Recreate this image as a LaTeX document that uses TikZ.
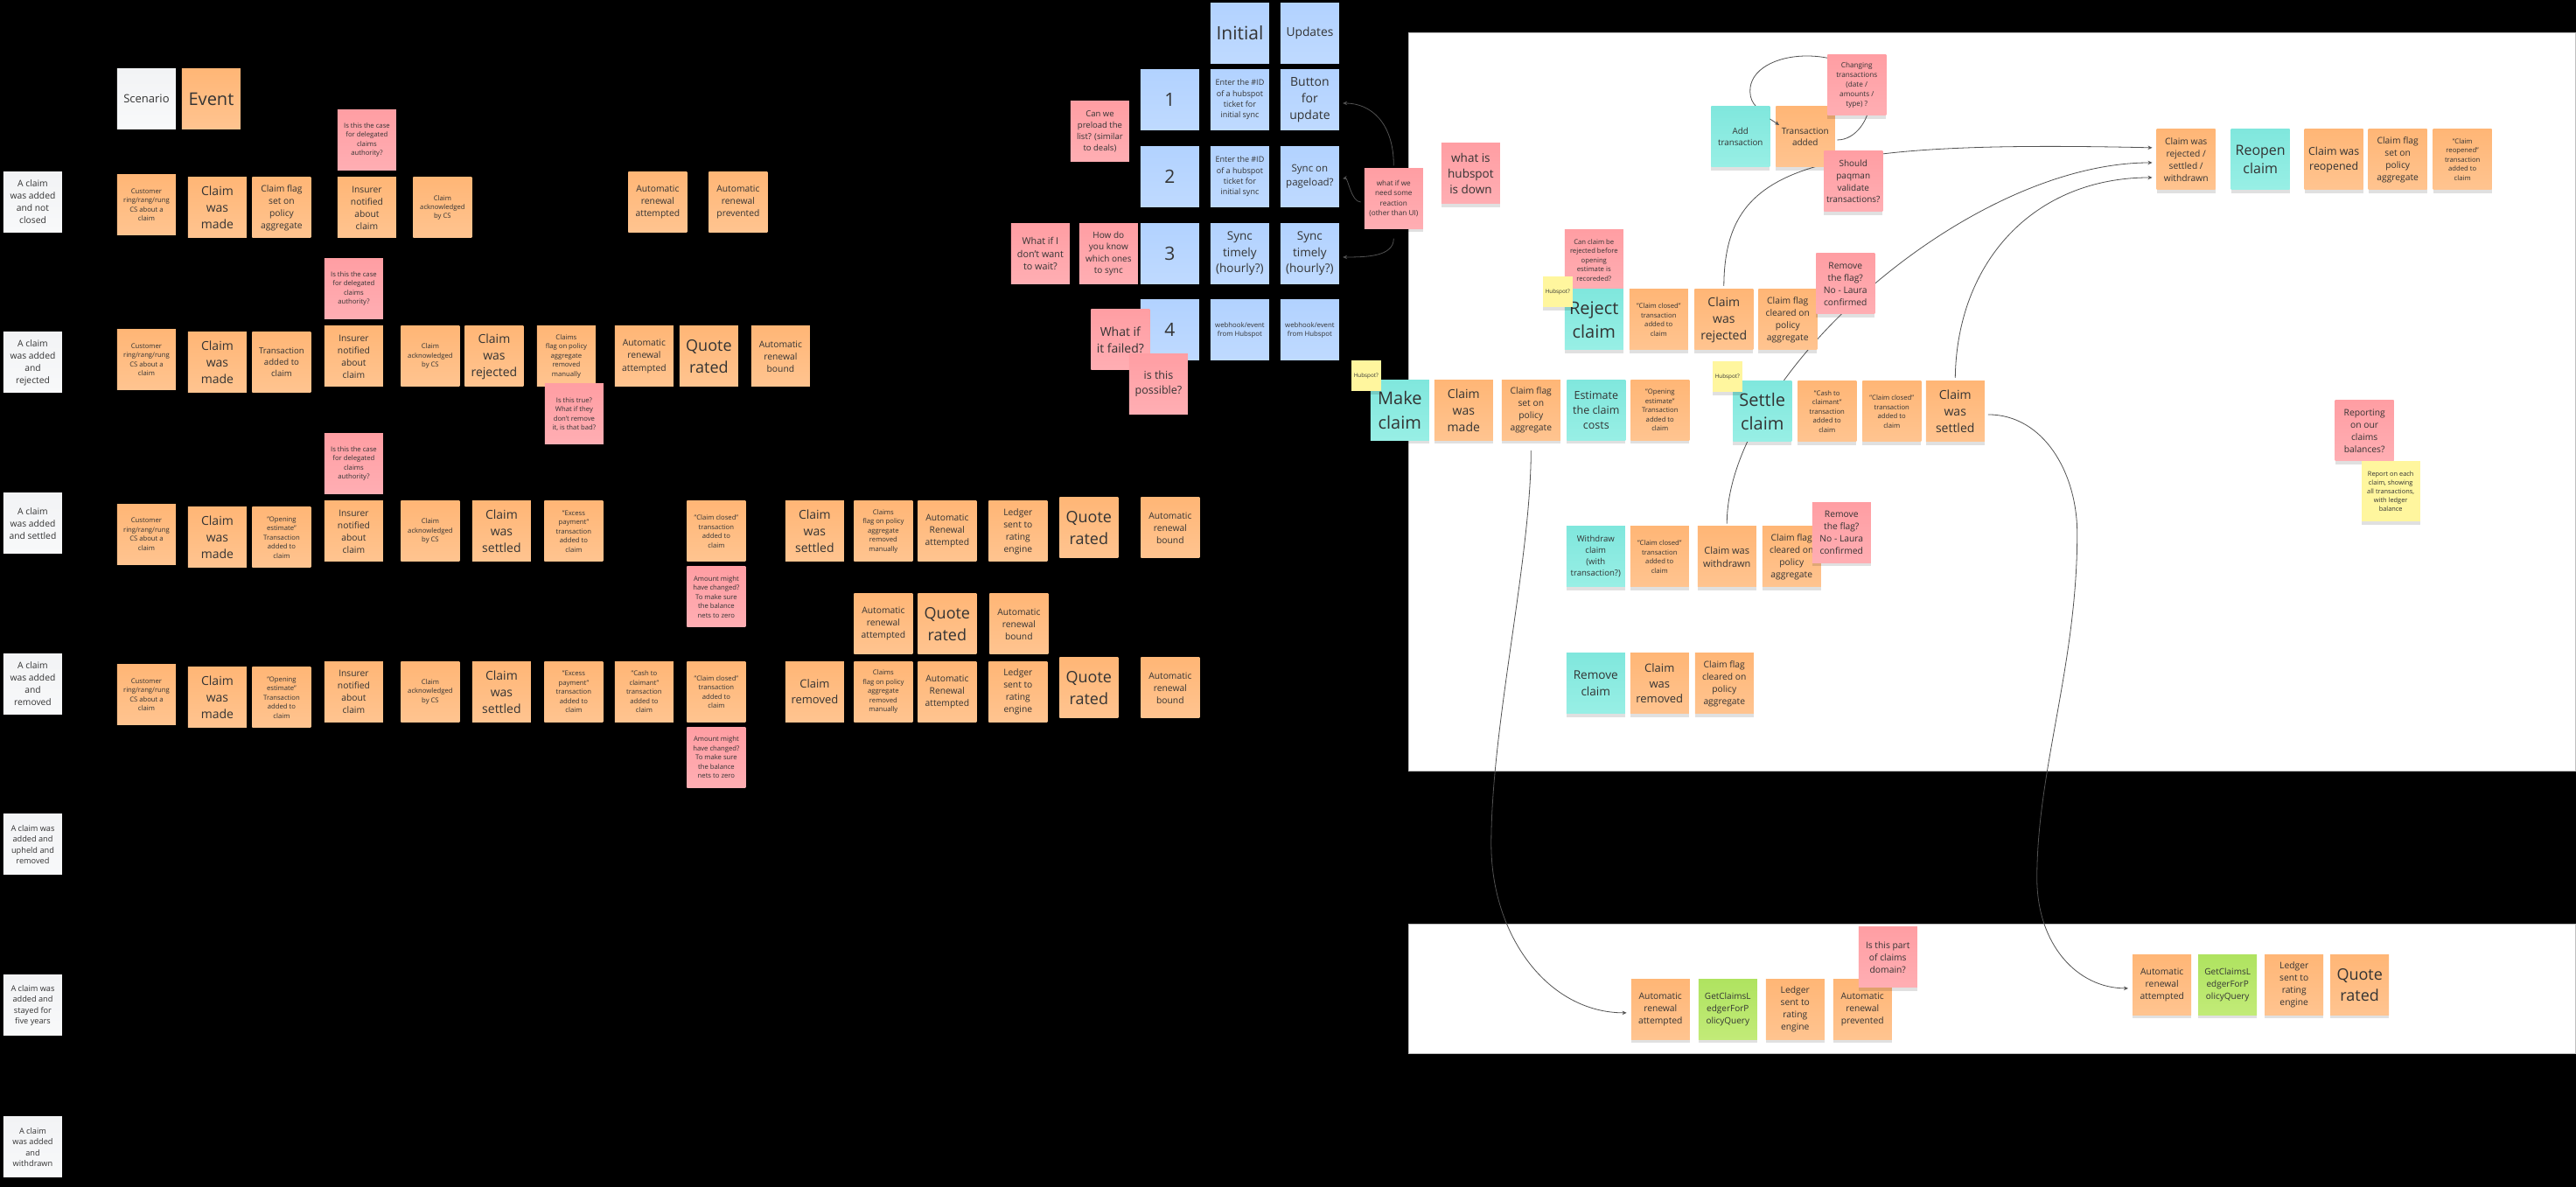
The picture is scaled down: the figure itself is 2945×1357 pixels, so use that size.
\documentclass[tikz,border=0pt]{standalone}
\usepackage{fontspec}
\setmainfont{Open Sans}
\usetikzlibrary{positioning, shadows, arrows.meta}

\pgfdeclarelayer{panel}
\pgfdeclarelayer{links}
\pgfsetlayers{panel,links,main}

\definecolor{evttop}{HTML}{FFB676}
\definecolor{evtbot}{HTML}{FFC490}
\definecolor{asktop}{HTML}{FF9EA3}
\definecolor{askbot}{HTML}{FFAEB3}
\definecolor{rdtop}{HTML}{B2D2FF}
\definecolor{rdbot}{HTML}{BFDAFF}
\definecolor{cmdtop}{HTML}{80E7DD}
\definecolor{cmdbot}{HTML}{98EFE5}
\definecolor{qrytop}{HTML}{AFE360}
\definecolor{qrybot}{HTML}{C2EB78}
\definecolor{hintcol}{HTML}{FFF69E}
\definecolor{scntop}{HTML}{F2F3F5}
\definecolor{scnbot}{HTML}{F8F9FA}

\tikzset{
    fz/.code={\pgfmathparse{1.36*#1}\edef\fzspec{\noexpand\fontsize{#1}{\pgfmathresult}\noexpand\selectfont}\tikzset{font/.expand once=\fzspec}},
    sticky/.style={rectangle, minimum width=67pt, minimum height=69pt, inner sep=0pt,
        align=center, text=black!80,
        drop shadow={shadow xshift=0pt, shadow yshift=-4pt, opacity=.12, fill=black}},
    evt/.style={sticky, top color=evttop, bottom color=evtbot},
    ask/.style={sticky, top color=asktop, bottom color=askbot},
    rd/.style={sticky, top color=rdtop, bottom color=rdbot},
    cmd/.style={sticky, top color=cmdtop, bottom color=cmdbot},
    qry/.style={sticky, top color=qrytop, bottom color=qrybot},
    scn/.style={sticky, top color=scntop, bottom color=scnbot},
    hint/.style={sticky, fill=hintcol},
    hintsmall/.style={hint, minimum width=33.5pt, minimum height=35pt, fz=6.3},
    conn/.style={draw=black!68, line width=.8pt},
    arr/.style={conn, -{Stealth[length=5pt, width=4.5pt]}, shorten >=4pt}
}

\begin{document}
\begin{tikzpicture}[x=1pt, y=-1pt, on grid]

   % Ground and panels
   \begin{pgfonlayer}{panel}
   \fill[black] (0,0) rectangle (2945,1357);
   \filldraw[fill=white, draw=black!25, line width=.7pt] (1611,37) rectangle (2945,881);
   \filldraw[fill=white, draw=black!25, line width=.7pt] (1611,1056) rectangle (2945,1204);
   \end{pgfonlayer}
   \useasboundingbox (0,0) rectangle (2945,1357);

   % Headers
   \node[scn, fz=13] (hscn) at (167.5,113) {Scenario};
   \node[evt, fz=20, right=74pt of hscn] (hevt) {Event};

   % Scenario 1
   \node[scn, fz=10.3] (s1) at (37.5,231) {A claim\\was added\\and not\\closed};
   \node[evt, fz=7.7] (a1) at (167.5,234.5) {Customer\\ring/rang/rung\\CS about a\\claim};
   \node[evt, fz=14, right=81pt of a1, yshift=-3pt] (a2) {Claim\\was\\made};
   \node[evt, fz=10.3, right=73.5pt of a2] (a3) {Claim flag\\set on\\policy\\aggregate};
   \node[evt, fz=10.3, right=97.5pt of a3] (a4) {Insurer\\notified\\about\\claim};
   \node[ask, fz=7.7, above=77.5pt of a4] (a0) {Is this the case\\for delegated\\claims\\authority?};
   \node[evt, fz=7.7, right=86.5pt of a4] (a5) {Claim\\acknowledged\\by CS};
   \node[evt, fz=10.3, right=246pt of a5, yshift=6.5pt] (a6) {Automatic\\renewal\\attempted};
   \node[evt, fz=10.3, right=92pt of a6] (a7) {Automatic\\renewal\\prevented};

   % Scenario 2
   \node[scn, fz=10.3] (s2) at (37.5,414.5) {A claim\\was added\\and\\rejected};
   \node[evt, fz=7.7] (b1) at (167.5,411.5) {Customer\\ring/rang/rung\\CS about a\\claim};
   \node[evt, fz=14, right=81pt of b1, yshift=-3pt] (b2) {Claim\\was\\made};
   \node[evt, fz=9.6, right=73.5pt of b2] (b3) {Transaction\\added to\\claim};
   \node[evt, fz=10.3, right=82.5pt of b3, yshift=7pt] (b4) {Insurer\\notified\\about\\claim};
   \node[ask, fz=7.7, above=77.5pt of b4] (b0) {Is this the case\\for delegated\\claims\\authority?};
   \node[evt, fz=7.7, right=87.5pt of b4] (b5) {Claim\\acknowledged\\by CS};
   \node[evt, fz=14, right=73pt of b5] (b6) {Claim\\was\\rejected};
   \node[evt, fz=7.7, right=82.5pt of b6] (b7) {Claims\\flag on policy\\aggregate\\removed\\manually};
   \node[evt, fz=10.3, right=89pt of b7] (b8) {Automatic\\renewal\\attempted};
   \node[evt, fz=18, right=74pt of b8] (b9) {Quote\\rated};
   \node[evt, fz=10.3, right=82pt of b9] (b10) {Automatic\\renewal\\bound};
   \node[ask, fz=7.7, below=66pt of b7, xshift=9pt] (b11) {Is this true?\\What if they\\don't remove\\it, is that bad?};

   % Scenario 3
   \node[scn, fz=10.3] (s3) at (37.5,598.5) {A claim\\was added\\and settled};
   \node[evt, fz=7.7] (c1) at (167.5,611) {Customer\\ring/rang/rung\\CS about a\\claim};
   \node[evt, fz=14, right=81pt of c1, yshift=-3.5pt] (c2) {Claim\\was\\made};
   \node[evt, fz=7.7, right=73.5pt of c2] (c3) {"Opening\\estimate"\\Transaction\\added to\\claim};
   \node[evt, fz=10.3, right=82.5pt of c3, yshift=7pt] (c4) {Insurer\\notified\\about\\claim};
   \node[ask, fz=7.7, above=77.5pt of c4] (c0) {Is this the case\\for delegated\\claims\\authority?};
   \node[evt, fz=7.7, right=87.5pt of c4] (c5) {Claim\\acknowledged\\by CS};
   \node[evt, fz=14, right=81.5pt of c5] (c6) {Claim\\was\\settled};
   \node[evt, fz=7.7, right=82.5pt of c6] (c7) {"Excess\\payment"\\transaction\\added to\\claim};
   \node[evt, fz=7.7, right=163pt of c7] (c8) {"Claim closed"\\transaction\\added to\\claim};
   \node[ask, fz=7.7, below=75pt of c8] (c9) {Amount might\\have changed?\\To make sure\\the balance\\nets to zero};
   \node[evt, fz=14, right=112.5pt of c8] (c10) {Claim\\was\\settled};
   \node[evt, fz=7.7, right=78.5pt of c10] (c11) {Claims\\flag on policy\\aggregate\\removed\\manually};
   \node[evt, fz=10.3, right=73pt of c11] (c12) {Automatic\\Renewal\\attempted};
   \node[evt, fz=10.3, right=81pt of c12] (c13) {Ledger\\sent to\\rating\\engine};
   \node[evt, fz=18, right=81pt of c13, yshift=4pt] (c14) {Quote\\rated};
   \node[evt, fz=10.3, right=93pt of c14] (c15) {Automatic\\renewal\\bound};
   \node[evt, fz=10.3, below=106pt of c11] (m1) {Automatic\\renewal\\attempted};
   \node[evt, fz=18, right=73pt of m1] (m2) {Quote\\rated};
   \node[evt, fz=10.3, right=82pt of m2] (m3) {Automatic\\renewal\\bound};

   % Scenario 4
   \node[scn, fz=10.3] (s4) at (37.5,782) {A claim\\was added\\and\\removed};
   \node[evt, fz=7.7] (d1) at (167.5,794.5) {Customer\\ring/rang/rung\\CS about a\\claim};
   \node[evt, fz=14, right=81pt of d1, yshift=-3pt] (d2) {Claim\\was\\made};
   \node[evt, fz=7.7, right=73.5pt of d2] (d3) {"Opening\\estimate"\\Transaction\\added to\\claim};
   \node[evt, fz=10.3, right=82.5pt of d3, yshift=6.5pt] (d4) {Insurer\\notified\\about\\claim};
   \node[evt, fz=7.7, right=87.5pt of d4] (d5) {Claim\\acknowledged\\by CS};
   \node[evt, fz=14, right=81.5pt of d5] (d6) {Claim\\was\\settled};
   \node[evt, fz=7.7, right=82.5pt of d6] (d7) {"Excess\\payment"\\transaction\\added to\\claim};
   \node[evt, fz=7.7, right=80.5pt of d7] (d8) {"Cash to\\claimant"\\transaction\\added to\\claim};
   \node[evt, fz=7.7, right=82.5pt of d8] (d9) {"Claim closed"\\transaction\\added to\\claim};
   \node[ask, fz=7.7, below=75pt of d9] (d10) {Amount might\\have changed?\\To make sure\\the balance\\nets to zero};
   \node[evt, fz=13, right=112.5pt of d9] (d11) {Claim\\removed};
   \node[evt, fz=7.7, right=78.5pt of d11] (d12) {Claims\\flag on policy\\aggregate\\removed\\manually};
   \node[evt, fz=10.3, right=73pt of d12] (d13) {Automatic\\Renewal\\attempted};
   \node[evt, fz=10.3, right=81pt of d13] (d14) {Ledger\\sent to\\rating\\engine};
   \node[evt, fz=18, right=81pt of d14, yshift=4.5pt] (d15) {Quote\\rated};
   \node[evt, fz=10.3, right=93pt of d15] (d16) {Automatic\\renewal\\bound};

   % Scenarios without events
   \node[scn, fz=9.2] (s5) at (37.5,965.5) {A claim was\\added and\\upheld and\\removed};
   \node[scn, fz=9.2, below=184pt of s5] (s6) {A claim was\\added and\\stayed for\\five years};
   \node[scn, fz=9.2, below=162pt of s6] (s7) {A claim\\was added\\and\\withdrawn};

   % Sync options
   \node[rd, fz=21] (init) at (1417.6,38) {Initial};
   \node[rd, fz=13.8, right=80pt of init] (upd) {Updates};
   \node[rd, fz=21] (n1) at (1337.6,114) {1};
   \node[rd, fz=9, right=80pt of n1] (i1) {Enter the \#ID\\of a hubspot\\ticket for\\initial sync};
   \node[rd, fz=14, right=80pt of i1] (u1) {Button\\for\\update};
   \node[rd, fz=21, below=88pt of n1] (n2) {2};
   \node[rd, fz=9, right=80pt of n2] (i2) {Enter the \#ID\\of a hubspot\\ticket for\\initial sync};
   \node[rd, fz=11.5, right=80pt of i2] (u2) {Sync on\\pageload?};
   \node[rd, fz=21, below=88pt of n2] (n3) {3};
   \node[rd, fz=13.5, right=80pt of n3] (i3) {Sync\\timely\\(hourly?)};
   \node[rd, fz=13.5, right=80pt of i3] (u3) {Sync\\timely\\(hourly?)};
   \node[rd, fz=21, below=87.5pt of n3] (n4) {4};
   \node[rd, fz=7.8, right=80pt of n4] (i4) {webhook/event\\from Hubspot};
   \node[rd, fz=7.8, right=80pt of i4] (u4) {webhook/event\\from Hubspot};
   \node[ask, fz=9.5] (preload) at (1257.6,150.5) {Can we\\preload the\\list? (similar\\to deals)};
   \node[ask, fz=10.8] (nowait) at (1189.5,290) {What if I\\don't want\\to wait?};
   \node[ask, fz=10, right=78pt of nowait] (which) {How do\\you know\\which ones\\to sync};
   \node[ask, fz=14] (failed) at (1281,388.5) {What if\\it failed?};
   \node[ask, fz=12.5] (possible) at (1324.6,439) {is this\\possible?};
   \node[ask, fz=8.2] (react) at (1593.5,227) {what if we\\need some\\reaction\\(other than UI)};
   \node[ask, fz=13.5] (down) at (1681.6,198.5) {what is\\hubspot\\is down};

   % Add transaction
   \node[cmd, fz=9.8] (addtx) at (1990,156.5) {Add\\transaction};
   \node[evt, fz=10, right=74pt of addtx] (txadded) {Transaction\\added};
   \node[ask, fz=8.2] (chg) at (2123,97.5) {Changing\\transactions\\(date /\\amounts /\\type) ?};
   \node[ask, fz=10] (valid) at (2119,207.5) {Should\\paqman\\validate\\transactions?};

   % Reject
   \node[ask, fz=7.7] (canrej) at (1822.5,297.5) {Can claim be\\rejected before\\opening\\estimate is\\recoreded?};
   \node[cmd, fz=20, below=68pt of canrej] (rej) {Reject\\claim};
   \node[evt, fz=7.7, right=74pt of rej] (rej1) {"Claim closed"\\transaction\\added to\\claim};
   \node[evt, fz=14, right=74.5pt of rej1] (rej2) {Claim\\was\\rejected};
   \node[evt, fz=10.3, right=73pt of rej2] (rej3) {Claim flag\\cleared on\\policy\\aggregate};
   \node[ask, fz=10.3] (rmflag1) at (2110,324.5) {Remove\\the flag?\\No - Laura\\confirmed};
   \node[hintsmall] (hub1) at (1781,333.5) {Hubspot?};

   % Make
   \node[cmd, fz=20] (mk) at (1600.5,469) {Make\\claim};
   \node[evt, fz=14, right=73pt of mk] (mk1) {Claim\\was\\made};
   \node[evt, fz=10.3, right=77pt of mk1] (mk2) {Claim flag\\set on\\policy\\aggregate};
   \node[cmd, fz=12.5, right=74.5pt of mk2] (mk3) {Estimate\\the claim\\costs};
   \node[evt, fz=7.7, right=73pt of mk3] (mk4) {"Opening\\estimate"\\Transaction\\added to\\claim};
   \node[hintsmall] (hub0) at (1562,429.5) {Hubspot?};

   % Settle
   \node[cmd, fz=20] (st) at (2015,470.5) {Settle\\claim};
   \node[evt, fz=7.7, right=74pt of st] (st1) {"Cash to\\claimant"\\transaction\\added to\\claim};
   \node[evt, fz=7.7, right=74pt of st1] (st2) {"Claim closed"\\transaction\\added to\\claim};
   \node[evt, fz=14, right=72.5pt of st2] (st3) {Claim\\was\\settled};
   \node[hintsmall] (hub2) at (1975,430.5) {Hubspot?};

   % Withdraw
   \node[cmd, fz=9.6] (wd) at (1824.5,636.5) {Withdraw\\claim\\(with\\transaction?)};
   \node[evt, fz=7.7, right=73pt of wd] (wd1) {"Claim closed"\\transaction\\added to\\claim};
   \node[evt, fz=11, right=77pt of wd1] (wd2) {Claim was\\withdrawn};
   \node[evt, fz=10.3, right=74pt of wd2] (wd3) {Claim flag\\cleared on\\policy\\aggregate};
   \node[ask, fz=10.3] (rmflag2) at (2105.5,609) {Remove\\the flag?\\No - Laura\\confirmed};

   % Remove
   \node[cmd, fz=13.6, below=145pt of wd] (rm) {Remove\\claim};
   \node[evt, fz=13, right=73pt of rm] (rm1) {Claim\\was\\removed};
   \node[evt, fz=10.3, right=74pt of rm1] (rm2) {Claim flag\\cleared on\\policy\\aggregate};

   % Reopen
   \node[evt, fz=10.3] (closed) at (2499.5,182.5) {Claim was\\rejected /\\settled /\\withdrawn};
   \node[cmd, fz=16, right=85pt of closed] (reop) {Reopen\\claim};
   \node[evt, fz=12.4, right=84pt of reop] (reop1) {Claim was\\reopened};
   \node[evt, fz=10.3, right=73pt of reop1] (reop2) {Claim flag\\set on\\policy\\aggregate};
   \node[evt, fz=7.7, right=74pt of reop2] (reop3) {"Claim\\reopened"\\transaction\\added to\\claim};

   % Reporting
   \node[ask, fz=10.3] (report) at (2703.5,492.5) {Reporting\\on our\\claims\\balances?};
   \node[hint, fz=7.4] (reporteach) at (2733.5,561.5) {Report on each\\claim, showing\\all transactions,\\with ledger\\balance};

   % Second panel
   \node[evt, fz=10.3] (la) at (1898.5,1154) {Automatic\\renewal\\attempted};
   \node[qry, fz=10, right=77pt of la] (lb) {GetClaimsL\\edgerForP\\olicyQuery};
   \node[evt, fz=10.3, right=77pt of lb] (lc) {Ledger\\sent to\\rating\\engine};
   \node[evt, fz=10.3, right=77pt of lc] (ld) {Automatic\\renewal\\prevented};
   \node[ask, fz=10.3] (part) at (2158.5,1094.5) {Is this part\\of claims\\domain?};
   \node[evt, fz=10.3] (ra) at (2472,1126) {Automatic\\renewal\\attempted};
   \node[qry, fz=10, right=75pt of ra] (rb) {GetClaimsL\\edgerForP\\olicyQuery};
   \node[evt, fz=10.3, right=76pt of rb] (rc) {Ledger\\sent to\\rating\\engine};
   \node[evt, fz=18, right=75pt of rc] (rd) {Quote\\rated};

   % Connectors
   \begin{pgfonlayer}{links}
   \draw[arr, shorten <=3pt] (react.north) .. controls +(0,-52) and +(36,0) .. ([yshift=-4pt]u1.east);
   \draw[arr, shorten <=4pt] ([yshift=-4pt]react.west) .. controls +(-15,0) and +(10,-2) .. ([yshift=-3pt]u2.east);
   \draw[arr, shorten <=11pt] (react.south) .. controls +(0,32) and +(30,0) .. ([yshift=-4pt]u3.east);

   \draw[conn, shorten <=3pt] ([yshift=-3.5pt]txadded.east) .. controls +(25,0) and +(0,15) .. (2137,120)
      .. controls (2137,85) and (2110,64) .. (2066,64)
      .. controls (2030,64) and (2000,80) .. (2001,105) .. controls (2001,112) and (2004,118) .. ([xshift=18pt]addtx.north);

   \draw[arr, shorten <=4pt, shorten >=5pt] (rej2.north) .. controls +(1,-141) and +(-401,-9) .. ([yshift=13.5pt]closed.west);
   \draw[arr, shorten <=3pt, shorten >=5pt] (wd2.north) .. controls +(0,-172) and +(-216,0) .. ([yshift=-3.5pt]closed.west);
   \draw[arr, shorten <=4pt, shorten >=5pt] (st3.north) .. controls +(2,-136) and +(-141,0) .. ([yshift=-20.5pt]closed.west);

   \draw[arr, shorten <=11.5pt, shorten >=5pt] (mk2.south) .. controls +(0,136) and (1705,830) .. (1705,965)
      .. controls (1705,1070) and (1770,1158) .. ([yshift=-4pt]la.west);
   \draw[arr, shorten <=4pt, shorten >=5pt] ([yshift=-3.5pt]st3.east) .. controls +(67,0) and (2375,540) .. (2375,610)
      .. controls (2375,760) and (2329,880) .. (2329,1004)
      .. controls (2329,1080) and (2375,1130) .. ([yshift=-4pt]ra.west);
   \end{pgfonlayer}

   % This tip lies over the card
   \draw[arr, shorten >=0pt] ([yshift=20.5pt]addtx.east) -- ([xshift=4pt,yshift=13.5pt]txadded.west);

\end{tikzpicture}
\end{document}
